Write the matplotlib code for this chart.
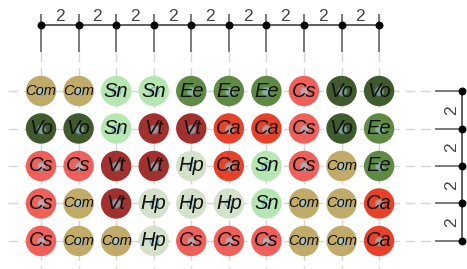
import numpy as np
import matplotlib
matplotlib.use("Agg")
import matplotlib.pyplot as plt

# grid of labels, row by row (top to bottom)
labels = [
    ["Com", "Com", "Sn", "Sn", "Ee", "Ee", "Ee", "Cs", "Vo", "Vo"],
    ["Vo", "Vo", "Sn", "Vt", "Vt", "Ca", "Ca", "Cs", "Vo", "Ee"],
    ["Cs", "Cs", "Vt", "Vt", "Hp", "Ca", "Sn", "Cs", "Com", "Ee"],
    ["Cs", "Com", "Vt", "Hp", "Hp", "Hp", "Sn", "Com", "Com", "Ca"],
    ["Cs", "Com", "Com", "Hp", "Cs", "Cs", "Cs", "Com", "Com", "Ca"],
]
col_gaps = [2, 2, 2, 2, 2, 2, 2, 2, 2]
row_gaps = [2, 2, 2, 2]

colors = {
    "Com": "#c2aa68",
    "Sn": "#b6e6b1",
    "Ee": "#5f8a43",
    "Cs": "#f0605a",
    "Vo": "#3f5a2c",
    "Vt": "#a2302e",
    "Ca": "#e8412a",
    "Hp": "#d4e2c9",
}

n_rows = len(labels)
n_cols = len(labels[0])
cols = np.arange(n_cols)
rows = np.arange(n_rows)

fig = plt.figure(figsize=(4.67, 2.69), dpi=100)
ax = fig.add_axes([0, 0, 1, 1])
ax.set_xlim(-1.092, 11.34)
ax.set_ylim(4.747, -2.427)
ax.axis("off")

grid_kw = dict(color="#d6d6d6", lw=1.0, linestyles=(0, (7, 4)), zorder=1)
ax.hlines(rows, -0.88, 10.49, **grid_kw)
ax.vlines(cols, -1.04, 4.72, **grid_kw)

# top axis
top_y = -1.76
ax.plot([cols[0], cols[-1]], [top_y, top_y], color="#333333", lw=1.1, zorder=2)
ax.vlines(cols, -2.05, -1.04, color="#555555", lw=1.1, zorder=2)
ax.scatter(cols, np.full(n_cols, top_y), s=22, color="black", zorder=3)
for i, g in enumerate(col_gaps):
    ax.text(cols[i] + 0.5, -2.0, str(g), ha="center", va="center",
            fontsize=12.5, color="#444444", family="Liberation Sans")

# right axis
right_x = 11.21
ax.plot([right_x, right_x], [rows[0], rows[-1]], color="#333333", lw=1.1, zorder=2)
ax.hlines(rows, 10.49, right_x, color="#555555", lw=1.1, zorder=2)
ax.scatter(np.full(n_rows, right_x), rows, s=22, color="black", zorder=3)
for j, g in enumerate(row_gaps):
    ax.text(10.93, rows[j] + 0.5, str(g), ha="center", va="center", rotation=90,
            fontsize=12.5, color="#444444", family="Liberation Sans")

# circles
xs, ys, cs = [], [], []
for j in rows:
    for i in cols:
        xs.append(i)
        ys.append(j)
        cs.append(colors[labels[j][i]])
ax.scatter(xs, ys, s=480, c=cs, edgecolors="none", zorder=4)
ax.scatter(xs, ys, s=36, facecolor="#b5d3dc", edgecolors="#5d9fb3", lw=1.0,
           alpha=0.55, zorder=5)

for j in rows:
    for i in cols:
        lab = labels[j][i]
        fs = 10.5 if len(lab) > 2 else 14.5
        ax.text(i, j, lab, ha="center", va="center", fontsize=fs, style="italic",
                color="#111111", family="Liberation Sans", zorder=6)

fig.savefig("out.png", dpi=100)
